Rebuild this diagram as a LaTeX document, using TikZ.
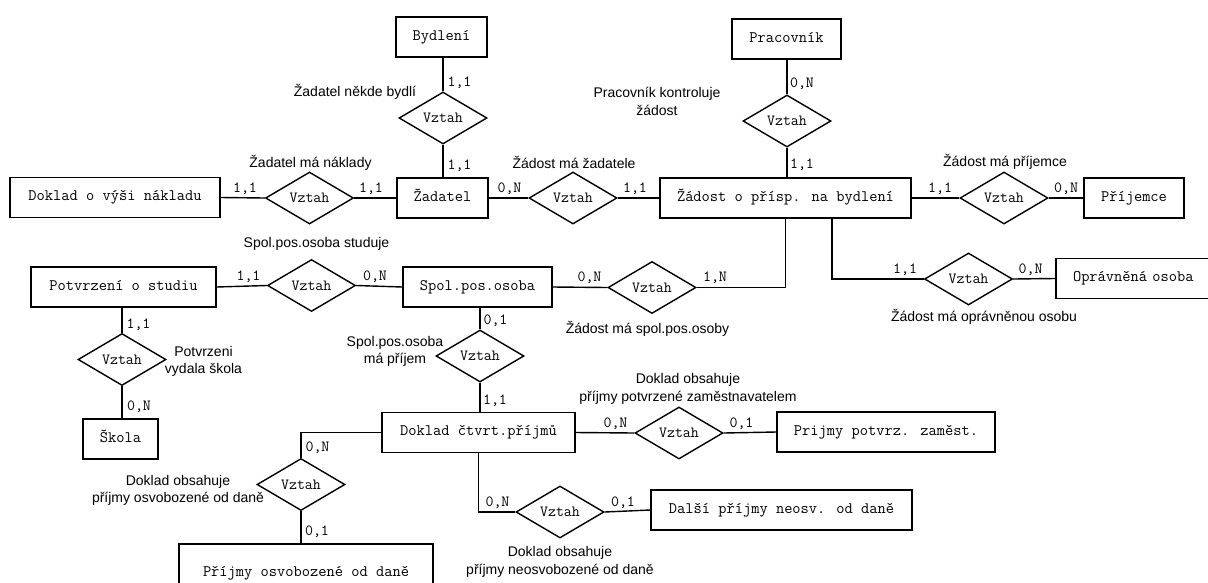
\documentclass[tikz,border=0pt]{standalone}
\usepackage{fontspec}
\setmainfont{Liberation Sans}
\usetikzlibrary{shapes.geometric}

\begin{document}
\begin{tikzpicture}[x=1pt,y=-1pt,
  entity/.style={draw, line width=1.4pt, font=\ttfamily\fontsize{16}{18}\selectfont,
    inner sep=0pt, minimum height=40pt, text height=8pt, text depth=2pt},
  rel/.style={draw, diamond, line width=1.4pt, font=\ttfamily\fontsize{15.5}{18}\selectfont,
    inner sep=0pt, minimum width=88pt, minimum height=52pt},
  card/.style={font=\ttfamily\fontsize{15.5}{18}\selectfont, inner sep=0pt},
  lbl/.style={font=\fontsize{14}{17.5}\selectfont, align=center, inner sep=0pt},
  conn/.style={line width=1.4pt}
]
\clip (0,0) rectangle (1208,582);
\fill[white] (0,0) rectangle (1208,582);

% entities
\node[entity, minimum width=91pt]  (byd)   at (441.5,37)   {Bydlení};
\node[entity, minimum width=109pt] (prac)  at (786.5,39)   {Pracovník};
\node[entity, minimum width=91pt]  (zad)   at (442.5,198)  {Žadatel};
\node[entity, minimum width=210pt] (dok)   at (115,197.5)  {Doklad o výši nákladu};
\node[entity, minimum width=251pt] (zdst)  at (785.5,198)  {Žádost o přísp. na bydlení};
\node[entity, minimum width=100pt] (prij)  at (1134,198)   {Příjemce};
\node[entity, minimum width=185pt] (potv)  at (123.5,287)  {Potvrzení o studiu};
\node[entity, minimum width=149pt] (spol)  at (477.5,287)  {Spol.pos.osoba};
\node[entity, minimum width=156pt, text width=138pt, align=left] (opr) at (1134,278.5) {\hspace*{8pt}Oprávněná osoba};
\node[entity, minimum width=75pt]  (skola) at (120.5,439)  {Škola};
\node[entity, minimum width=193pt] (dcp)   at (478.5,432.5){Doklad čtvrt.příjmů};
\node[entity, minimum width=218pt] (ppz)   at (886,432)    {Prijmy potvrz. zaměst.};
\node[entity, minimum width=261pt] (dal)   at (781.5,510)  {Další příjmy neosv. od daně};
\node[entity, minimum width=254pt, minimum height=58pt] (pos) at (306,573) {Příjmy osvobozené od daně};

% relationships
\node[rel] (r1)  at (443,118)    {Vztah};
\node[rel] (r2)  at (787,121)    {Vztah};
\node[rel] (r3)  at (309.5,198)  {Vztah};
\node[rel] (r4)  at (573,198)    {Vztah};
\node[rel] (r5)  at (1004,198)   {Vztah};
\node[rel] (r6)  at (311.5,285.5){Vztah};
\node[rel] (r7)  at (652,287.5)  {Vztah};
\node[rel] (r8)  at (968.5,279)  {Vztah};
\node[rel] (r9)  at (122,359.5)  {Vztah};
\node[rel] (r10) at (480,356)    {Vztah};
\node[rel] (r11) at (679,433)    {Vztah};
\node[rel] (r12) at (560,512)    {Vztah};
\node[rel] (r13) at (301,484.5)  {Vztah};

% connectors
\draw[conn] (r1.north) -- (r1.north |- byd.south);
\draw[conn] (r1.south) -- (r1.south |- zad.north);
\draw[conn] (r2.north) -- (r2.north |- prac.south);
\draw[conn] (r2.south) -- (r2.south |- zdst.north);
\draw[conn] (dok.east) -- (r3.west);
\draw[conn] (r3.east) -- (zad.west);
\draw[conn] (zad.east) -- (r4.west);
\draw[conn] (r4.east) -- (zdst.west);
\draw[conn] (zdst.east) -- (r5.west);
\draw[conn] (r5.east) -- (prij.west);
\draw[conn] (potv.east) -- (r6.west);
\draw[conn] (r6.east) -- (spol.west);
\draw[conn] (spol.east) -- (r7.west);
\draw[conn] (r7.east) -| (zdst.south);
\draw[conn] ([xshift=46.5pt]zdst.south) |- (r8.west);
\draw[conn] (r8.east) -- (opr.west);
\draw[conn] (r9.north) -- (r9.north |- potv.south);
\draw[conn] (r9.south) -- (r9.south |- skola.north);
\draw[conn] (r10.north) -- (r10.north |- spol.south);
\draw[conn] (r10.south) -- (r10.south |- dcp.north);
\draw[conn] (dcp.east) -- (r11.west);
\draw[conn] (r11.east) -- (ppz.west);
\draw[conn] (dcp.south) |- (r12.west);
\draw[conn] (r12.east) -- (dal.west);
\draw[conn] (dcp.west) -| (r13.north);
\draw[conn] (r13.south) -- (r13.south |- pos.north);

% cardinalities
\node[card] (c1)  at (459.5,83)  {1,1};
\node[card] (c2)  at (459.5,166) {1,1};
\node[card] (c3)  at (802,84)    {0,N};
\node[card] (c4)  at (802,165)   {1,1};
\node[card] (c5)  at (245,189)   {1,1};
\node[card] (c6)  at (371,189)   {1,1};
\node[card] (c7)  at (509.5,189) {0,N};
\node[card] (c8)  at (635,189)   {1,1};
\node[card] (c9)  at (940,189)   {1,1};
\node[card] (c10) at (1066,189)  {0,N};
\node[card] (c11) at (248.5,277) {1,1};
\node[card] (c12) at (375,277)   {0,N};
\node[card] (c13) at (589.5,278) {0,N};
\node[card] (c14) at (715,278)   {1,N};
\node[card] (c15) at (905,270)   {1,1};
\node[card] (c16) at (1030.5,270){0,N};
\node[card] (c17) at (138.5,325) {1,1};
\node[card] (c18) at (139,407)   {0,N};
\node[card] (c19) at (495.5,321) {0,1};
\node[card] (c20) at (495,401)   {1,1};
\node[card] (c21) at (615.5,424) {0,N};
\node[card] (c22) at (741.5,424) {0,1};
\node[card] (c23) at (497.5,503) {0,N};
\node[card] (c24) at (623,503)   {0,1};
\node[card] (c25) at (317.5,448) {0,N};
\node[card] (c26) at (317,532)   {0,1};

% relationship names
\node[lbl] (l1)  at (355,92)     {Žadatel někde bydlí};
\node[lbl] (l2)  at (657,101.5)  {Pracovník kontroluje\\žádost};
\node[lbl] (l3)  at (310.5,163)  {Žadatel má náklady};
\node[lbl] (l4)  at (574,162)    {Žádost má žadatele};
\node[lbl] (l5)  at (1005,162)   {Žádost má příjemce};
\node[lbl] (l6)  at (316.5,244)  {Spol.pos.osoba studuje};
\node[lbl] (l7)  at (647.5,329)  {Žádost má spol.pos.osoby};
\node[lbl] (l8)  at (984,317)    {Žádost má oprávněnou osobu};
\node[lbl] (l9)  at (203.5,361.5){Potvrzeni\\vydala škola};
\node[lbl] (l10) at (395,351.5)  {Spol.pos.osoba\\má příjem};
\node[lbl] (l11) at (688,389)    {Doklad obsahuje\\příjmy potvrzené zaměstnavatelem};
\node[lbl] (l12) at (560,562)    {Doklad obsahuje\\příjmy neosvobozené od daně};
\node[lbl] (l13) at (178,490.5)  {Doklad obsahuje\\příjmy osvobozené od daně};
\end{tikzpicture}
\end{document}
